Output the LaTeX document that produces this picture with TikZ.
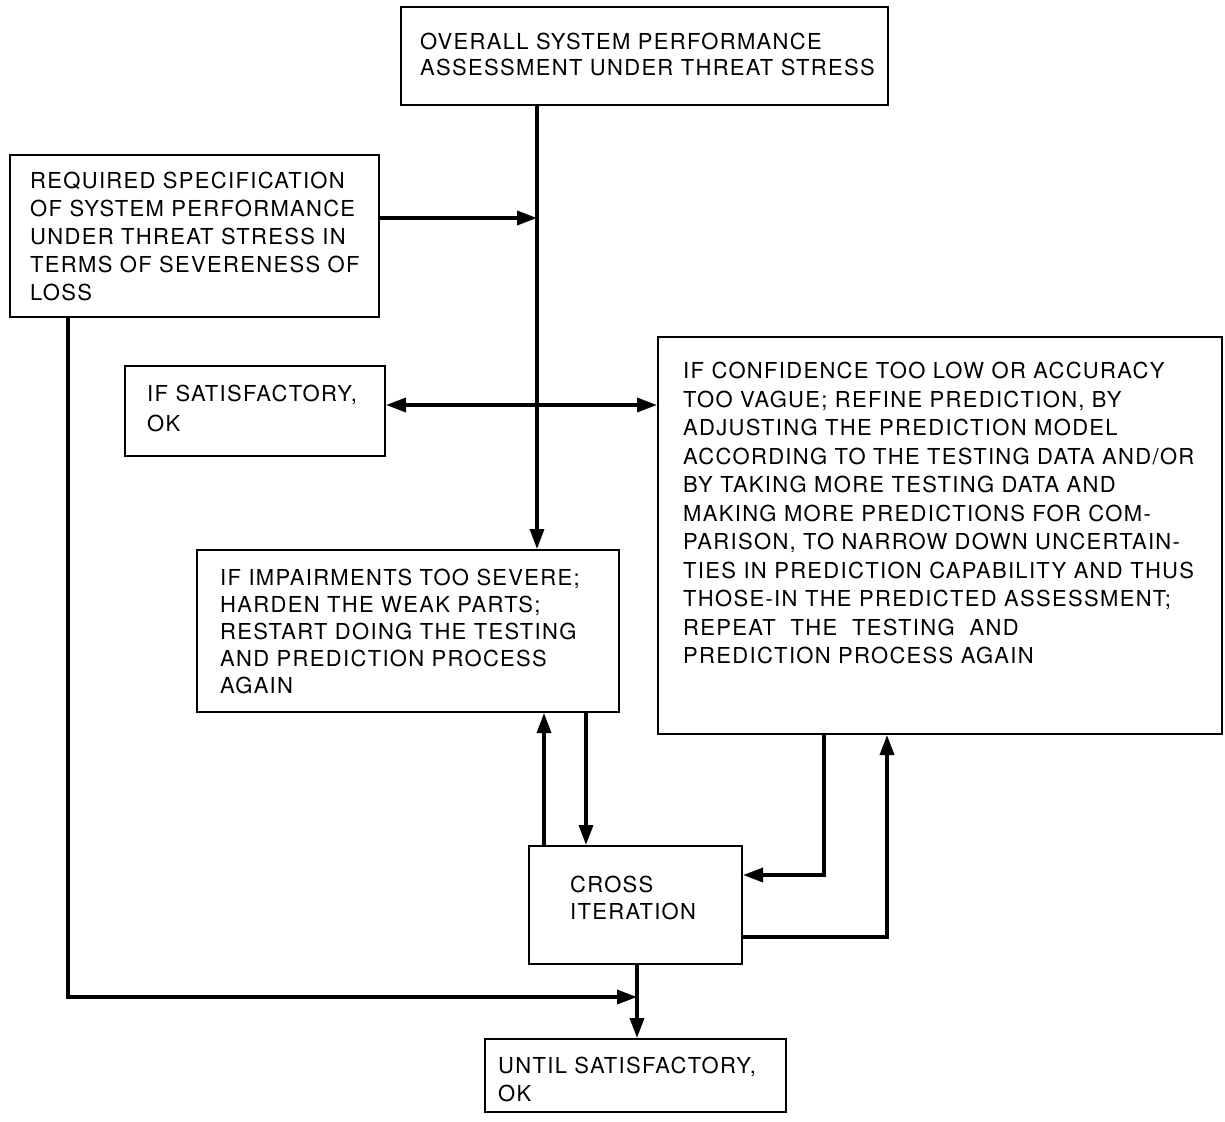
\documentclass[tikz,border=0pt]{standalone}
\usepackage{fontspec}
\setmainfont{TeX Gyre Heros}[LetterSpace=6]
\usetikzlibrary{arrows.meta}
\tikzset{
  box/.style={draw, line width=2pt, inner sep=0pt, rectangle},
  txt/.style={anchor=north west, align=left, inner sep=0pt, font=\fontsize{22}{28}\selectfont},
  conn/.style={line width=3.4pt},
  tip/.style={-{Triangle[length=20pt,width=14pt]}},
}
\begin{document}
\begin{tikzpicture}[x=1pt,y=-1pt]
\useasboundingbox (0,0) rectangle (1225,1121);
% boxes
\node[box, minimum width=487pt, minimum height=98pt] (top) at (644.5,56) {};
\node[box, minimum width=369pt, minimum height=162pt] (spec) at (194.5,236) {};
\node[box, minimum width=260pt, minimum height=90pt] (sat) at (255,411) {};
\node[box, minimum width=564pt, minimum height=397pt] (right) at (940,535.5) {};
\node[box, minimum width=422pt, minimum height=162pt] (imp) at (408,631) {};
\node[box, minimum width=213pt, minimum height=118pt] (cross) at (635.5,905) {};
\node[box, minimum width=301pt, minimum height=73pt] (until) at (635.5,1075.5) {};
% texts
\node[txt, font=\fontsize{22}{26}\selectfont] (topT) at (420,33) {OVERALL SYSTEM PERFORMANCE\\ASSESSMENT UNDER THREAT STRESS};
\node[txt] (specT) at (30,172) {REQUIRED SPECIFICATION\\OF SYSTEM PERFORMANCE\\UNDER THREAT STRESS IN\\TERMS OF SEVERENESS OF\\LOSS};
\node[txt, font=\fontsize{22}{30}\selectfont] (satT) at (147,385) {IF SATISFACTORY,\\OK};
\node[txt, font=\fontsize{22}{28.5}\selectfont] (rightT) at (683,362) {IF CONFIDENCE TOO LOW OR ACCURACY\\TOO VAGUE; REFINE PREDICTION, BY\\ADJUSTING THE PREDICTION MODEL\\ACCORDING TO THE TESTING DATA AND/OR\\BY TAKING MORE TESTING DATA AND\\MAKING MORE PREDICTIONS FOR COM-\\PARISON, TO NARROW DOWN UNCERTAIN-\\TIES IN PREDICTION CAPABILITY AND THUS\\THOSE-IN THE PREDICTED ASSESSMENT;\\REPEAT\ \ THE\ \ TESTING\ \ AND\\PREDICTION PROCESS AGAIN};
\node[txt, font=\fontsize{22}{27}\selectfont] (impT) at (220,569) {IF IMPAIRMENTS TOO SEVERE;\\HARDEN THE WEAK PARTS;\\RESTART DOING THE TESTING\\AND PREDICTION PROCESS\\AGAIN};
\node[txt, font=\fontsize{22}{27}\selectfont] (crossT) at (570,876) {CROSS\\ITERATION};
\node[txt] (untilT) at (498,1057) {UNTIL SATISFACTORY,\\OK};
% helper coordinates
\coordinate (vx) at (537,0);
\coordinate (jSpec) at (537,218);
\coordinate (jSat) at (537,405);
\coordinate (bl) at (68,997);
\coordinate (jBot) at (637,997);
\coordinate (upx) at (544,0);
\coordinate (dnx) at (586,0);
\coordinate (rdown) at (824,875);
\coordinate (rup) at (887,937);
% connectors
\draw[conn,tip] (top.south -| vx) -- (imp.north -| vx);
\draw[conn,tip] (spec.east |- jSpec) -- (jSpec);
\draw[conn,{Triangle[length=20pt,width=14pt]}-{Triangle[length=20pt,width=14pt]}] (sat.east |- jSat) -- (right.west |- jSat);
\draw[conn,tip] (spec.south -| bl) -- (bl) -- (jBot);
\draw[conn,tip] (cross.south -| jBot) -- (until.north -| jBot);
\draw[conn,tip] (cross.north -| upx) -- (imp.south -| upx);
\draw[conn,tip] (imp.south -| dnx) -- (cross.north -| dnx);
\draw[conn,tip] (right.south -| rdown) -- (rdown) -- (cross.east |- rdown);
\draw[conn,tip] (cross.east |- rup) -- (rup) -- (right.south -| rup);
\end{tikzpicture}
\end{document}
